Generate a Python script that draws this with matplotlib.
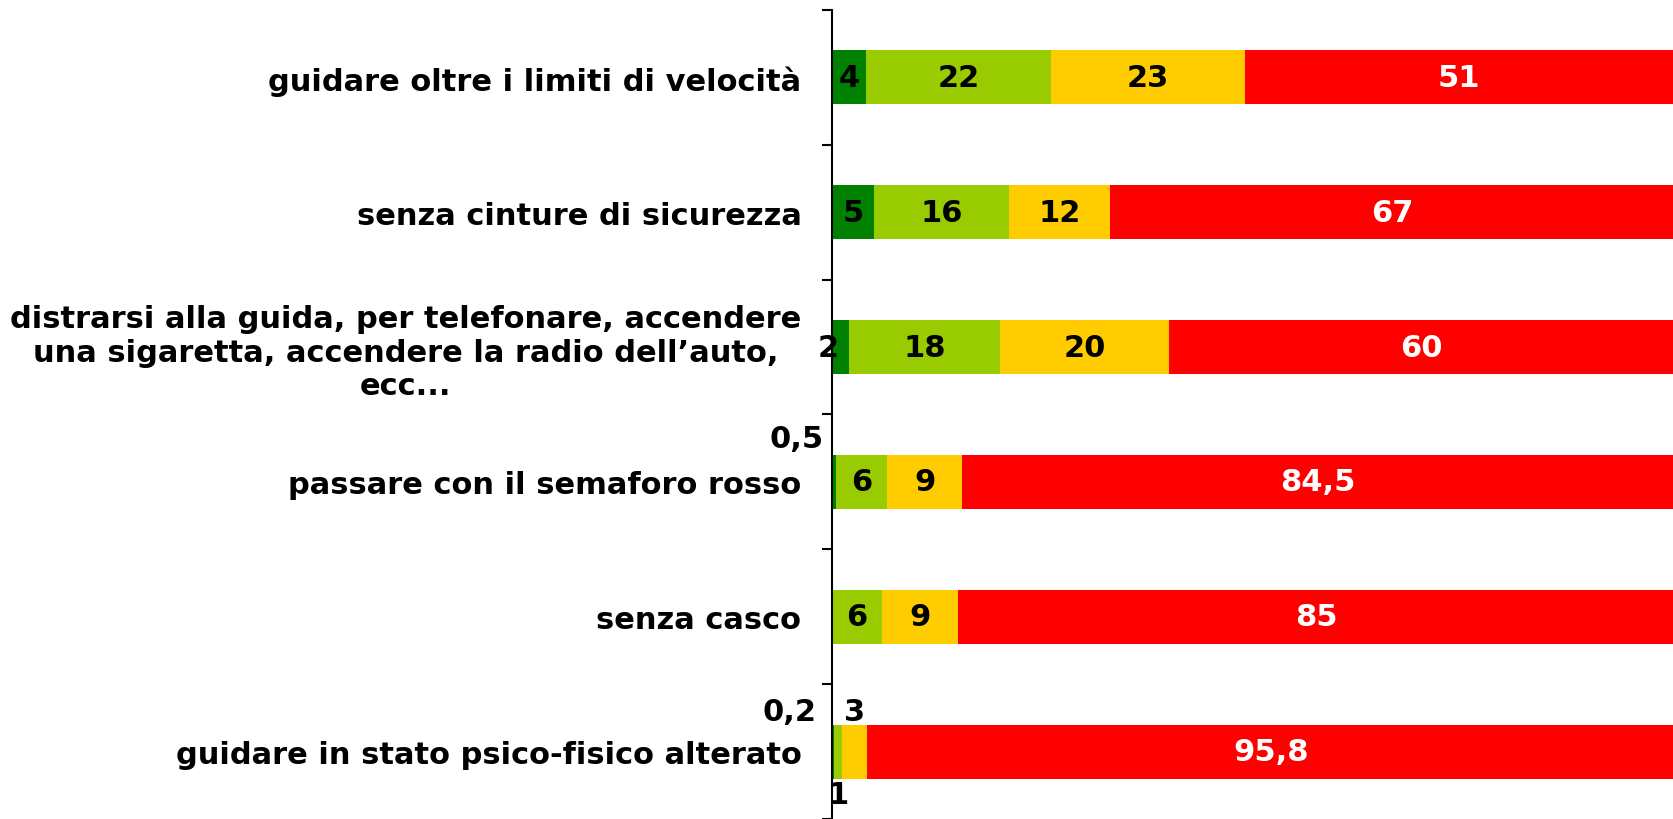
import matplotlib.pyplot as plt
from matplotlib.ticker import FixedLocator

categories = [
    "guidare oltre i limiti di velocità",
    "senza cinture di sicurezza",
    "distrarsi alla guida, per telefonare, accendere\nuna sigaretta, accendere la radio dell’auto,\necc...",
    "passare con il semaforo rosso",
    "senza casco",
    "guidare in stato psico-fisico alterato",
]
dark_green = [4, 5, 2, 0.5, 0, 0.2]
light_green = [22, 16, 18, 6, 6, 1]
yellow = [23, 12, 20, 9, 9, 3]
red = [51, 67, 60, 84.5, 85, 95.8]

series = [dark_green, light_green, yellow, red]
colors = ["#008000", "#99CC00", "#FFCC00", "#FF0000"]
text_colors = ["black", "black", "black", "white"]

FS = 22


def fmt(v):
    return ("%g" % v).replace(".", ",")


fig = plt.figure(figsize=(16.74, 8.2), dpi=100)
ax = fig.add_axes([0.497, 0.0, 0.503, 0.9866])

n = len(categories)
y = list(range(n))
left = [0.0] * n
starts = []
for s, (vals, col, tcol) in enumerate(zip(series, colors, text_colors)):
    ax.barh(y, vals, left=left, height=0.4, color=col, edgecolor="none")
    starts.append(left)
    for i, v in enumerate(vals):
        # the last row's small segments are labelled outside the bar
        if v >= 2 and (i != n - 1 or s == len(series) - 1):
            # narrow segments: label spills a bit to the left, as in the original
            dx = -9 if v < 3 else 0
            ax.annotate(fmt(v), xy=(left[i] + v / 2, i), xytext=(dx, 0),
                        textcoords="offset points", ha="center", va="center",
                        color=tcol, fontsize=FS, fontweight="bold",
                        annotation_clip=False)
    left = [l + v for l, v in zip(left, vals)]

ax.annotate(fmt(dark_green[3]), xy=(0, 3 - 0.32), xytext=(-6, 0),
            textcoords="offset points", ha="right", va="center",
            fontsize=FS, fontweight="bold", annotation_clip=False)
ax.annotate(fmt(dark_green[5]), xy=(0, 5 - 0.3), xytext=(-11, 0),
            textcoords="offset points", ha="right", va="center",
            fontsize=FS, fontweight="bold", annotation_clip=False)
ax.text(starts[2][5] + yellow[5] / 2, 5 - 0.3, fmt(yellow[5]),
        ha="center", va="center", fontsize=FS, fontweight="bold")
ax.text(starts[1][5] + light_green[5] / 2, 5 + 0.32, fmt(light_green[5]),
        ha="center", va="center", fontsize=FS, fontweight="bold")

ax.set_xlim(0, 100)
ax.set_ylim(n - 0.5, -0.5)
ax.set_yticks(y)
ax.set_yticklabels(categories, fontsize=FS, fontweight="bold", multialignment="center")
ax.yaxis.set_minor_locator(FixedLocator([i - 0.5 for i in range(n + 1)]))
ax.tick_params(axis="y", which="major", length=0, pad=22)
ax.tick_params(axis="y", which="minor", length=7.5, width=1.5, direction="out")
ax.set_xticks([])
for side in ["top", "right", "bottom"]:
    ax.spines[side].set_visible(False)
ax.spines["left"].set_linewidth(1.5)

fig.savefig("out.png", dpi=100)
